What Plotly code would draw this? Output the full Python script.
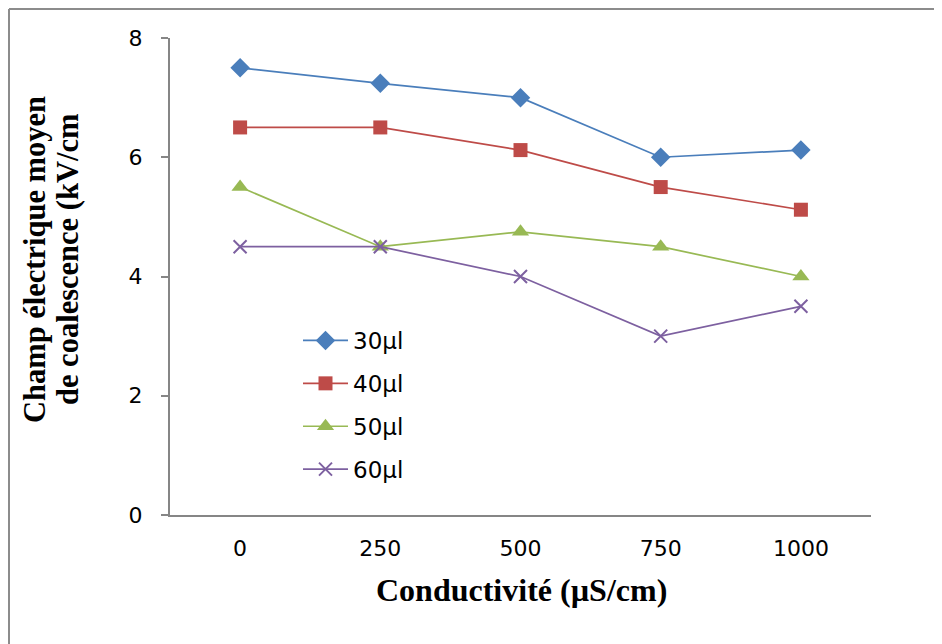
import plotly.graph_objects as go

categories = ["0", "250", "500", "750", "1000"]
s30 = [7.5, 7.24, 7.0, 6.0, 6.12]
s40 = [6.5, 6.5, 6.12, 5.5, 5.12]
s50 = [5.5, 4.5, 4.75, 4.5, 4.0]
s60 = [4.5, 4.5, 4.0, 3.0, 3.5]
names = ["30µl", "40µl", "50µl", "60µl"]
y_ticks = [0, 2, 4, 6, 8]
x_title = "Conductivité (µS/cm)"
y_title_lines = ["Champ électrique moyen", "de coalescence (kV/cm"]

series = [s30, s40, s50, s60]
colors = ["#4A7EBB", "#BE4B48", "#98B954", "#7D60A0"]
symbols = ["diamond", "square", "triangle-up", "x-thin"]
sizes = [15, 14, 15, 13]

# page has an 8px body margin; figure coordinates compensate for it
OFF = 8
W, H = 942 - OFF, 644 - OFF
L, T = 170 - OFF, 38 - OFF
R = W - (871 - OFF)
B = H - (515 - OFF)
pw, ph = W - L - R, H - T - B


def px_x(p):  # page px -> paper x
    return (p - OFF - L) / pw


def px_y(p):  # page px -> paper y
    return (H - B - (p - OFF)) / ph


fig = go.Figure()
for i, (vals, nm) in enumerate(zip(series, names)):
    mk = dict(symbol=symbols[i], size=sizes[i], color=colors[i])
    if symbols[i] == "x-thin":
        mk["line"] = dict(color=colors[i], width=2)
    fig.add_trace(go.Scatter(
        x=categories, y=vals, name=nm, mode="lines+markers",
        line=dict(color=colors[i], width=1.7),
        marker=mk, legendgroup=nm,
    ))

serif = "Liberation Serif, Times New Roman, serif"
fig.update_layout(
    width=W, height=H,
    margin=dict(l=L, r=R, t=T, b=B),
    paper_bgcolor="white", plot_bgcolor="white",
    font=dict(family="DejaVu Sans, Verdana, sans-serif", size=22, color="black"),
    showlegend=True,
    legend=dict(
        x=px_x(298), y=px_y(319), xanchor="left", yanchor="top",
        bgcolor="rgba(0,0,0,0)", font=dict(size=23),
        tracegroupgap=10, itemwidth=45,
    ),
    xaxis=dict(
        type="category", range=[-0.5, 4.5],
        showline=True, linecolor="#868686", linewidth=2,
        ticks="", showgrid=False, zeroline=False,
        ticklabelstandoff=13,
    ),
    yaxis=dict(
        range=[0, 8], tickvals=y_ticks,
        showline=True, linecolor="#868686", linewidth=2,
        ticks="outside", ticklen=7, tickcolor="#868686", tickwidth=2,
        showgrid=False, zeroline=False,
        ticklabelstandoff=14,
    ),
)

fig.add_annotation(text="<b>%s</b>" % x_title, xref="paper", yref="paper",
                   x=px_x(521), y=px_y(590), xanchor="center", yanchor="middle",
                   showarrow=False, font=dict(family=serif, size=32))
for txt, cx in zip(y_title_lines, [35, 68]):
    fig.add_annotation(text="<b>%s</b>" % txt, xref="paper", yref="paper",
                       x=px_x(cx), y=px_y(260), xanchor="center", yanchor="middle",
                       textangle=-90, showarrow=False,
                       font=dict(family=serif, size=30.5))

# outer chart border (left and top visible)
fig.add_shape(type="line", xref="paper", yref="paper",
              x0=px_x(9), x1=px_x(960), y0=px_y(9), y1=px_y(9),
              line=dict(color="#8C8C8C", width=2))
fig.add_shape(type="line", xref="paper", yref="paper",
              x0=px_x(9), x1=px_x(9), y0=px_y(9), y1=px_y(660),
              line=dict(color="#8C8C8C", width=2))

fig.write_html("out.html")
